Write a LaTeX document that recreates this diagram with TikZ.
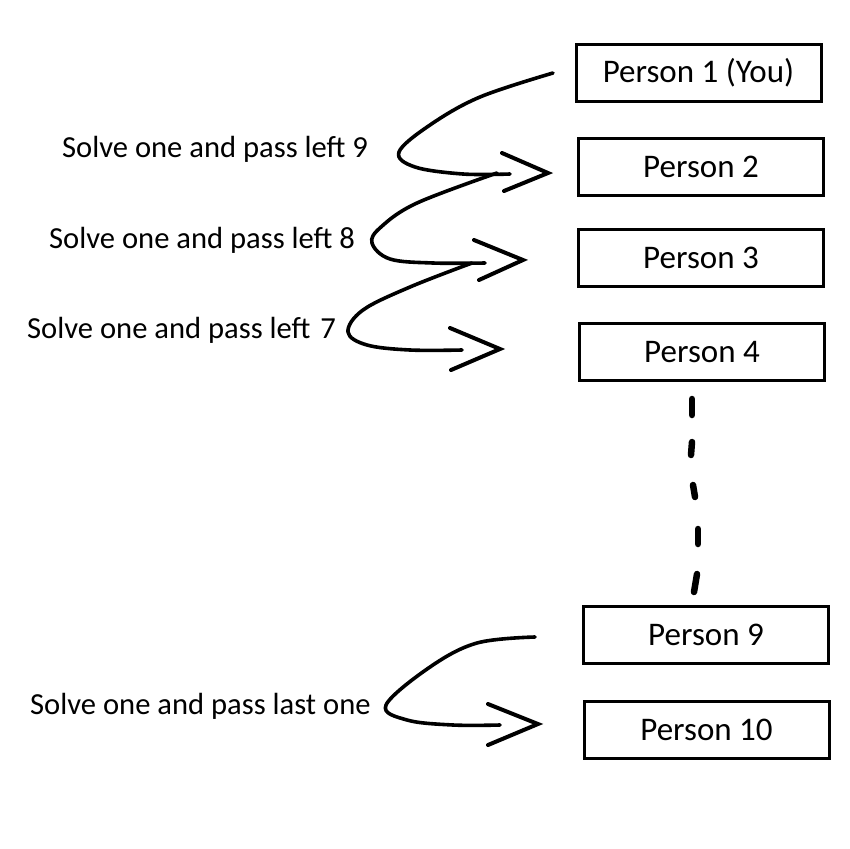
\documentclass[tikz,border=0pt]{standalone}
\usepackage{fontspec}
\setmainfont{Carlito}
\begin{document}
\begin{tikzpicture}[x=1pt,y=-1pt,
  personbox/.style={draw=black, line width=3pt, minimum width=245pt, minimum height=57pt, inner sep=0pt, font=\fontsize{33}{39}\selectfont},
  sidelabel/.style={anchor=base west, inner sep=0pt, font=\fontsize{30.6}{36}\selectfont},
  curve/.style={line width=3.6pt, line cap=round, line join=round},
  chevron/.style={line width=4pt, line cap=round, line join=miter},
  dotdash/.style={line width=6.5pt, line cap=round}]
\useasboundingbox (0,0) rectangle (849,849);
\fill[white] (0,0) rectangle (849,849);

\node[personbox] (p1) at (698.5,72.5) {Person 1 (You)};
\node[personbox] (p2) at (701,167) {Person 2};
\node[personbox] (p3) at (701,258) {Person 3};
\node[personbox] (p4) at (702,352) {Person 4};
\node[personbox] (p9) at (706,635) {Person 9};
\node[personbox] (p10) at (706.5,730) {Person 10};

\node[sidelabel] (l9) at (62,157) {Solve one and pass left 9};
\node[sidelabel] (l8) at (49,248) {Solve one and pass left 8};
\node[sidelabel] (l7) at (27,338) {Solve one and pass left\hspace{0.1em} 7};
\node[sidelabel] (ll) at (30,714) {Solve one and pass last one};

% curve 1
\coordinate (c1s) at (553,73);
\coordinate (c1e) at (510,174);
\draw[curve] plot[smooth, tension=0.6] coordinates {(c1s) (480,97) (430,125) (399,152) (415,167) (463,174) (c1e)};
\coordinate (a1t) at (548,173);
\draw[chevron] (502,153) -- (a1t) -- (504,191);

% curve 2
\coordinate (c2s) at (497,173);
\coordinate (c2e) at (485,263);
\draw[curve] plot[smooth, tension=0.6] coordinates {(c2s) (417,203) (381,227) (372,243) (390,259) (433,263) (c2e)};
\coordinate (a2t) at (523,260);
\draw[chevron] (474,240) -- (a2t) -- (479,280);

% curve 3
\coordinate (c3s) at (472,263);
\coordinate (c3e) at (462,350);
\draw[curve] plot[smooth, tension=0.6] coordinates {(c3s) (410,287) (363,310) (348,332) (367,345) (410,350) (c3e)};
\coordinate (a3t) at (500,349);
\draw[chevron] (450,328) -- (a3t) -- (451,370);

% dots between Person 4 and Person 9
\draw[dotdash] (692,399) -- (692,415);
\draw[dotdash] (692,442) -- (691,455);
\draw[dotdash] (693,485) -- (695,497);
\draw[dotdash] (698,529) -- (698,544);
\draw[dotdash] (697,574) -- (694,592);

% curve 4
\coordinate (c4s) at (535,637);
\coordinate (c4e) at (500,725);
\draw[curve] plot[smooth, tension=0.6] coordinates {(c4s) (477,643) (430,667) (386,705) (407,720) (453,725) (c4e)};
\coordinate (a4t) at (538,724);
\draw[chevron] (488,704) -- (a4t) -- (488,745);
\end{tikzpicture}
\end{document}
